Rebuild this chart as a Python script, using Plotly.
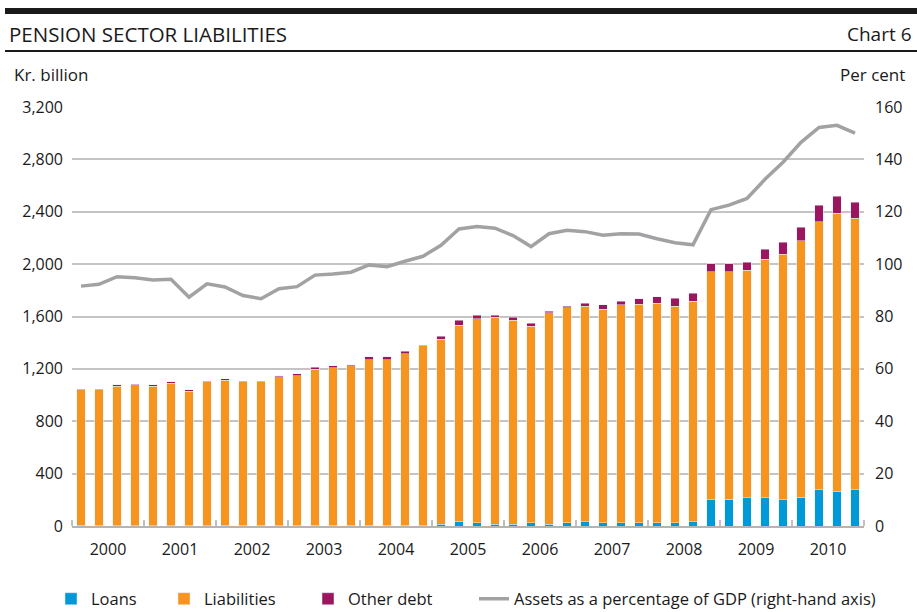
import plotly.graph_objects as go

# Quarterly observations, 2000 Q1 - 2010 Q4 (Kr. billion)
years = [str(y) for y in range(2000, 2011)]
quarters = [f"{y} Q{q}" for y in range(2000, 2011) for q in range(1, 5)]

loans = [6, 6, 3, 3, 2, 2, 6, 2, 6, 6, 6, 6, 6, 6, 6, 6,
         6, 6, 6, 6, 15, 38, 23, 15, 15, 23, 15, 23, 31, 23, 23, 23,
         23, 23, 31, 199, 206, 214, 214, 199, 221, 275, 267, 275]

liabilities = [1033, 1033, 1066, 1074, 1067, 1090, 1025, 1098, 1109, 1094, 1094, 1132,
               1140, 1193, 1201, 1216, 1262, 1262, 1308, 1369, 1413, 1497, 1558, 1581,
               1558, 1504, 1612, 1642, 1649, 1634, 1665, 1672, 1680, 1657, 1687, 1741,
               1734, 1741, 1825, 1878, 1956, 2047, 2123, 2077]

other_debt = [7, 7, 8, 7, 8, 8, 8, 7, 8, 7, 7, 8, 15, 15, 15, 8,
              23, 23, 22, 7, 23, 38, 30, 15, 23, 23, 15, 15, 23, 31, 30, 39,
              46, 61, 61, 61, 61, 61, 76, 92, 106, 129, 130, 122]

# Assets as a percentage of GDP (right-hand axis)
assets_pct_gdp = [91.6, 92.3, 95.2, 94.8, 93.9, 94.2, 87.4, 92.5, 91.3, 88.0, 86.8, 90.6,
                  91.4, 95.8, 96.2, 96.9, 99.7, 99.0, 101.1, 103.0, 107.2, 113.4, 114.4, 113.7,
                  110.9, 106.7, 111.6, 112.9, 112.4, 111.0, 111.6, 111.5, 109.7, 108.2, 107.4, 120.8,
                  122.5, 125.1, 132.4, 138.9, 146.5, 152.2, 153.0, 150.0]

left_ticks = list(range(0, 3201, 400))
right_ticks = list(range(0, 161, 20))

x = list(range(len(quarters)))
TEXT = "#1a1a1a"
GRID = "#c4c4c4"
FONT = "Open Sans"

# plot area in pixels: x 72..864, y 107..526
def px_x(p):
    return (p - 72) / 792

def px_y(p):
    return (526 - p) / 419

fig = go.Figure()
bar_w = 0.45
fig.add_bar(x=x, y=loans, name="Loans", marker_color="#0099d8", width=bar_w,
            legend="legend",
            customdata=quarters, hovertemplate="%{customdata}: %{y}<extra>Loans</extra>")
fig.add_bar(x=x, y=liabilities, name="Liabilities", marker_color="#f7941d", width=bar_w,
            legend="legend2",
            customdata=quarters, hovertemplate="%{customdata}: %{y}<extra>Liabilities</extra>")
fig.add_bar(x=x, y=other_debt, name="Other debt", marker_color="#9b165e", width=bar_w,
            legend="legend3",
            customdata=quarters, hovertemplate="%{customdata}: %{y}<extra>Other debt</extra>")
fig.add_scatter(x=x, y=assets_pct_gdp, yaxis="y2", mode="lines",
                name="Assets as a percentage of GDP (right-hand axis)",
                legend="legend4",
                line=dict(color="#a2a2a4", width=3.5))

def legend_at(left_px):
    return dict(orientation="h", x=px_x(left_px), xanchor="left", y=px_y(599),
                yanchor="middle", font=dict(size=16.5, color=TEXT), itemwidth=30,
                bgcolor="rgba(0,0,0,0)")

fig.update_layout(
    width=917, height=612,
    margin=dict(l=72, r=53, t=107, b=86, autoexpand=False),
    barmode="stack",
    plot_bgcolor="white", paper_bgcolor="white",
    font=dict(family=FONT, size=16, color=TEXT),
    showlegend=True,
    legend=legend_at(51),
    legend2=legend_at(164),
    legend3=legend_at(308),
    legend4=legend_at(474),
    xaxis=dict(range=[-0.5, 43.5], tickmode="array",
               tickvals=[1.5 + 4 * i for i in range(len(years))], ticktext=years,
               ticks="", showgrid=False, zeroline=False,
               showline=True, linecolor="#b4b4b4", linewidth=2,
               ticklabelstandoff=8,
               tickfont=dict(size=16, color=TEXT),
               minor=dict(tickmode="array", tickvals=[-0.5 + 4 * i for i in range(len(years) + 1)],
                          ticks="inside", ticklen=6, tickwidth=2, tickcolor="#c0c0c0",
                          showgrid=False)),
    yaxis=dict(range=[0, 3200], tickmode="array", tickvals=left_ticks,
               tickformat=",", showgrid=True, gridcolor=GRID, gridwidth=2,
               zeroline=False, showline=False, ticks="", ticklabelstandoff=8,
               tickfont=dict(size=16, color=TEXT)),
    yaxis2=dict(range=[0, 160], tickmode="array", tickvals=right_ticks,
                overlaying="y", side="right", showgrid=False, zeroline=False,
                showline=False, ticks="", ticklabelstandoff=10,
                tickfont=dict(size=16, color=TEXT)),
)

# Header rules
fig.add_shape(type="line", xref="paper", yref="paper",
              x0=px_x(5), x1=px_x(917), y0=px_y(11), y1=px_y(11),
              line=dict(color="#1a1a1a", width=6))
fig.add_shape(type="line", xref="paper", yref="paper",
              x0=px_x(5), x1=px_x(917), y0=px_y(51), y1=px_y(51),
              line=dict(color="#1a1a1a", width=2))

# Header and axis titles
fig.add_annotation(text="PENSION SECTOR LIABILITIES", xref="paper", yref="paper",
                   x=px_x(7), y=px_y(34), xanchor="left", yanchor="middle",
                   showarrow=False, font=dict(size=20.5, color=TEXT, family=FONT))
fig.add_annotation(text="Chart 6", xref="paper", yref="paper",
                   x=px_x(914), y=px_y(34), xanchor="right", yanchor="middle",
                   showarrow=False, font=dict(size=19, color=TEXT, family=FONT))
fig.add_annotation(text="Kr. billion", xref="paper", yref="paper",
                   x=px_x(12), y=px_y(75), xanchor="left", yanchor="middle",
                   showarrow=False, font=dict(size=17, color=TEXT, family=FONT))
fig.add_annotation(text="Per cent", xref="paper", yref="paper",
                   x=px_x(907), y=px_y(75), xanchor="right", yanchor="middle",
                   showarrow=False, font=dict(size=17, color=TEXT, family=FONT))

fig.write_html("out.html")
